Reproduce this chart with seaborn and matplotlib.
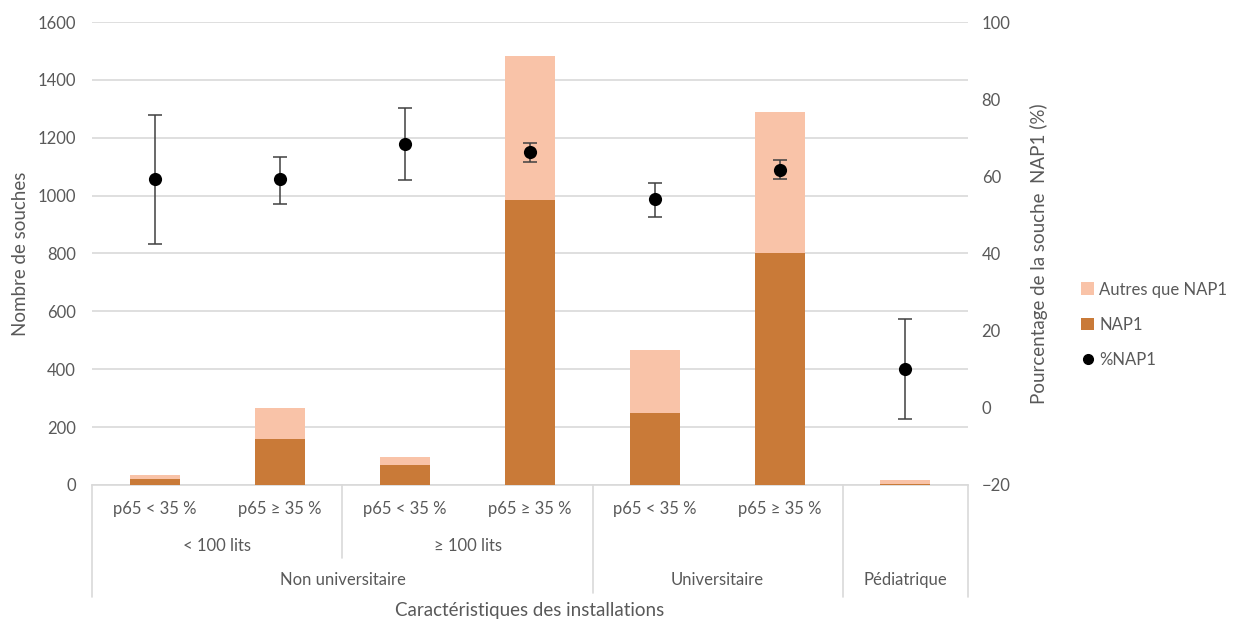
import matplotlib
matplotlib.use("Agg")
import matplotlib.pyplot as plt
import matplotlib.transforms as mtransforms
from matplotlib.lines import Line2D
from matplotlib.patches import Patch
import numpy as np
import pandas as pd
import seaborn as sns

# Data
categories = ["NU<100 p65<35", "NU<100 p65>=35", "NU>=100 p65<35", "NU>=100 p65>=35",
              "U p65<35", "U p65>=35", "Ped"]
p65_labels = ["p65 < 35 %", "p65 ≥ 35 %", "p65 < 35 %", "p65 ≥ 35 %",
              "p65 < 35 %", "p65 ≥ 35 %", ""]
total_souches = [34, 265, 98, 1484, 466, 1288, 17]
nap1_souches = [20, 158, 70, 985, 250, 800, 2]
pct_nap1 = [59.3, 59.3, 68.4, 66.3, 54.0, 61.6, 10.0]
pct_low = [42.5, 52.8, 59.0, 63.8, 49.5, 59.2, -3.0]
pct_high = [75.9, 65.0, 77.7, 68.6, 58.4, 64.2, 23.0]
lits_labels = ["< 100 lits", "≥ 100 lits"]
group_labels = ["Non universitaire", "Universitaire", "Pédiatrique"]

C_OTHER = "#F9C3A8"
C_NAP1 = "#C97A38"
GRID = "#D9D9D9"
TXT = "#595959"
FS_TICK = 12
FS_TITLE = 13.5

sns.set_theme(style="white")
plt.rcParams["font.family"] = ["Lato", "DejaVu Sans"]

df = pd.DataFrame({"cat": categories, "total": total_souches, "nap1": nap1_souches})

fig = plt.figure(figsize=(12.38, 6.22), dpi=100)
ax = fig.add_axes([0.0746, 0.2203, 0.7071, 0.7443])

sns.barplot(data=df, x="cat", y="total", color=C_OTHER, width=0.4, ax=ax,
            saturation=1, linewidth=0, zorder=2)
sns.barplot(data=df, x="cat", y="nap1", color=C_NAP1, width=0.4, ax=ax,
            saturation=1, linewidth=0, zorder=3)

ax.set_ylim(0, 1600)
ax.set_xlim(-0.5, 6.5)
ax.set_yticks(np.arange(0, 1601, 200))
ax.yaxis.grid(True, color=GRID, linewidth=1.2, zorder=0)
ax.set_axisbelow(True)
for s in ["top", "right", "left"]:
    ax.spines[s].set_visible(False)
ax.spines["bottom"].set_color(GRID)
ax.spines["bottom"].set_linewidth(1.2)
ax.tick_params(axis="y", length=0, labelsize=FS_TICK, labelcolor=TXT, pad=12)
ax.tick_params(axis="x", length=0, labelbottom=False)
ax.set_xlabel("")
ax.set_ylabel("Nombre de souches", fontsize=FS_TITLE, color=TXT, labelpad=6)

# Percentage axis
ax2 = ax.twinx()
x_pos = np.arange(len(categories))
yerr = [np.array(pct_nap1) - np.array(pct_low), np.array(pct_high) - np.array(pct_nap1)]
ax2.errorbar(x_pos, pct_nap1, yerr=yerr, fmt="none", ecolor="#404040",
             elinewidth=1.1, capsize=5, capthick=1.1, zorder=4)
sns.scatterplot(x=x_pos, y=pct_nap1, ax=ax2, color="black", s=90,
                edgecolor="black", linewidth=0, zorder=5)
ax2.set_ylim(-20, 100)
ax2.set_yticks(np.arange(-20, 101, 20))
ax2.set_xlim(-0.5, 6.5)
for s in ["top", "right", "left", "bottom"]:
    ax2.spines[s].set_visible(False)
ax2.tick_params(axis="y", length=0, labelsize=FS_TICK, labelcolor=TXT, pad=10)
ax2.set_ylabel("Pourcentage de la souche  NAP1 (%)", fontsize=FS_TITLE, color=TXT,
               labelpad=14)

# Multi-level category axis
trans = mtransforms.blended_transform_factory(ax.transData, ax.transAxes)
for i, lab in enumerate(p65_labels):
    if lab:
        ax.text(i, -0.052, lab, transform=trans, ha="center", va="center",
                fontsize=FS_TICK, color=TXT)
ax.text(0.5, -0.132, lits_labels[0], transform=trans, ha="center", va="center",
        fontsize=FS_TICK, color=TXT)
ax.text(2.5, -0.132, lits_labels[1], transform=trans, ha="center", va="center",
        fontsize=FS_TICK, color=TXT)
for xc, lab in zip([1.5, 4.5, 6.0], group_labels):
    ax.text(xc, -0.205, lab, transform=trans, ha="center", va="center",
            fontsize=FS_TICK, color=TXT)

for xd, ybot in [(-0.5, -0.242), (1.5, -0.158), (3.5, -0.233), (5.5, -0.242), (6.5, -0.242)]:
    ax.add_line(Line2D([xd, xd], [0, ybot], transform=trans, color=GRID,
                       linewidth=1.2, clip_on=False))

ax.text(3.0, -0.272, "Caractéristiques des installations", transform=trans,
        ha="center", va="center", fontsize=FS_TITLE, color=TXT)

# Legend
handles = [
    Patch(facecolor=C_OTHER, edgecolor="none", label="Autres que NAP1"),
    Patch(facecolor=C_NAP1, edgecolor="none", label="NAP1"),
    Line2D([], [], marker="o", linestyle="none", color="black", markersize=7,
           label="%NAP1"),
]
fig.legend(handles=handles, loc="center left", bbox_to_anchor=(0.861, 0.478),
           frameon=False, fontsize=FS_TICK, labelcolor=TXT, handlelength=0.8,
           handleheight=0.8, handletextpad=0.3, labelspacing=1.15)

fig.savefig("out.png", dpi=100, facecolor="white")
